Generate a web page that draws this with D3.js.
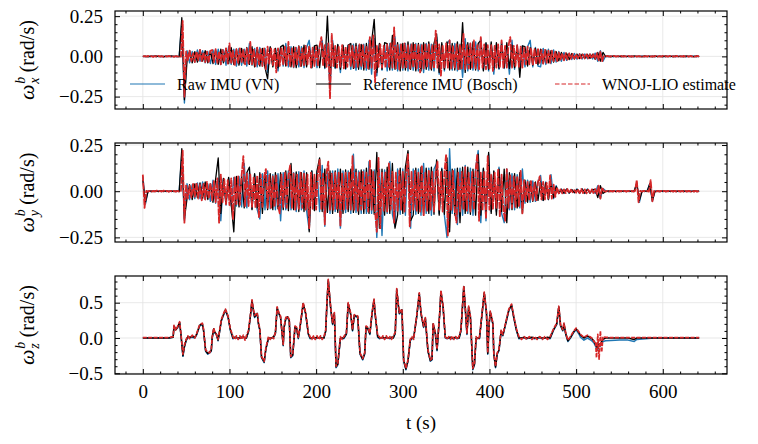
<!DOCTYPE html>
<html><head><meta charset="utf-8">
<script src="https://cdn.jsdelivr.net/npm/d3@7"></script>
<style>
body{margin:0;background:#fff}
svg{display:block}
text{font-family:"Liberation Serif","Times New Roman",Times,serif;fill:#000}
</style></head>
<body><svg id="chart" width="758" height="444"></svg>
<script>
// ---------- DATA ----------
const tFine = d3.range(0, 643, 2);   // 2 s sample grid (0..642)
const tCoarse = d3.range(0, 643, 3); // 3 s sample grid (0..642)

// omega_x (rad/s)
const xEst = [0,.002,-.002,.003,-.002,.002,-.003,.002,-.002,.003,-.002,.002,-.003,.002,-.002,.003,-.002,.002,-.003,.002,-.002,.003,-.002,
.22,-.25,
.03,-.025,.035,-.03,.02,-.035,.03,-.025,.04,-.03,.025,-.035,.03,-.04,.035,
.04,-.035,.045,-.04,.03,-.05,.04,-.035,.05,-.045,.08,-.04,.035,-.06,.045,-.04,.05,-.035,.04,-.05,
.05,-.045,.09,-.05,.04,-.06,.055,-.05,.045,-.06,.05,-.08,.06,-.045,.05,-.055,.045,-.1,.05,-.06,
.055,-.05,.06,-.055,.09,-.06,.05,-.065,.055,-.05,.06,-.06,.05,-.055,.065,-.05,.06,-.07,.055,-.06,
.06,-.055,.065,.12,-.06,.07,-.065,.08,-.26,.14,-.06,.065,-.07,.06,-.065,.07,-.075,.06,-.065,.07,
-.06,.065,-.07,.06,-.065,.075,-.06,.07,-.07,.065,-.075,.12,-.07,.13,-.16,.07,-.065,.075,-.07,.065,
-.07,.075,-.065,.08,-.07,.18,-.075,.07,-.08,.075,-.07,.08,-.075,.07,-.08,.075,-.07,.08,-.075,.07,
-.1,.07,-.075,.08,-.07,.075,-.08,.07,-.075,.16,-.07,.075,-.12,.07,-.075,.08,-.07,.1,-.075,.07,
-.07,.075,-.08,.07,-.075,.14,-.08,.07,-.075,.08,-.07,.1,-.075,.07,-.08,.12,-.07,.075,-.08,.07,
-.075,.07,-.09,.065,-.07,.075,-.065,.1,-.07,.065,-.07,.07,.12,-.07,.065,-.06,.07,-.065,.06,-.07,
.055,-.05,.06,-.05,.05,-.055,.045,-.05,.05,-.045,.04,-.045,.04,-.04,.035,-.04,.035,-.03,.03,-.03,
.025,-.02,.02,-.025,.02,-.02,.018,-.015,.015,-.015,.013,-.012,.014,-.012,.012,-.013,.012,-.012,.013,-.012,
.013,-.015,.02,-.025,.03,-.03,
.002,-.002,.003,-.002,.002,-.002,.003,-.002,.002,-.002,.003,-.002,.002,-.002,.003,-.002,.002,-.002,.003,-.002,
.002,-.002,.003,-.002,.002,-.002,.003,-.002,.002,-.002,.003,-.002,.002,-.002,.003,-.002,.002,-.002,.003,-.002,
.002,-.002,.003,-.002,.002,-.002,.003,-.002,.002,-.002,.003,-.002,.002,-.002,.003,-.002];
const xRaw = [.002,-.003,.002,-.002,.003,-.002,.002,-.003,.002,-.002,.003,-.002,.002,-.003,.002,
.21,-.29,
.035,-.04,.03,-.035,.04,-.03,.035,-.04,.03,-.045,
.04,-.05,.045,-.05,.04,-.055,.06,-.05,.045,-.06,.05,-.055,.045,
-.06,.08,-.055,.05,-.065,.055,-.06,.05,-.1,.055,-.06,.05,-.09,.055,
-.06,.08,-.065,.06,-.07,.055,-.065,.06,-.07,.055,.1,-.07,.06,
-.07,.07,.1,-.075,.08,-.2,.1,-.075,.07,-.1,.065,-.08,.07,
-.08,.075,-.085,.07,-.08,.075,-.085,.1,-.11,.11,-.12,.075,-.085,.07,
-.09,.08,-.085,.12,-.09,.075,-.085,.08,-.09,.075,-.085,.08,-.09,
.075,-.1,.08,-.085,.075,-.09,.12,-.11,.075,-.09,.08,.1,-.085,
.08,-.09,.075,-.13,.11,-.09,.08,-.085,.09,-.09,.11,-.085,.08,-.09,
.075,-.11,.07,-.08,.09,-.075,.07,-.11,.1,-.08,.07,-.075,.065,
-.065,.06,.1,-.065,.055,-.06,-.065,.05,-.05,.045,-.045,.04,-.035,
.03,-.03,.025,-.025,.02,-.02,.018,-.017,.016,-.016,.015,-.015,.015,-.016,
.02,-.03,.035,-.03,
.002,-.002,.003,-.003,.002,-.002,.003,-.003,.002,-.002,.003,-.003,.002,-.002,.003,-.003,.002,-.002,.003,-.003,
.002,-.002,.003,-.003,.002,-.002,.003,-.003,.002,-.002,.003,-.003,.002,-.002,.003,-.003,.002];
const xRef = [-.002,.002,-.003,.002,-.002,.003,-.002,.002,-.003,.002,-.002,.003,-.002,.002,-.003,
.24,-.27,
-.03,.035,-.04,.03,-.035,.04,-.03,.035,-.04,.035,
-.045,.04,-.05,.045,-.04,.05,-.045,.055,-.05,.045,-.055,.05,-.045,
.055,-.05,.06,-.065,.055,-.06,.05,-.07,-.14,.06,-.065,.05,-.07,.06,
.07,-.06,.065,-.065,.06,-.07,.065,-.06,.07,-.065,.06,-.07,.065,
.07,-.07,.08,-.07,.25,-.12,.08,-.07,.075,-.08,.07,-.075,.07,
.08,-.075,.08,-.08,.075,-.085,.08,-.08,.09,.23,-.1,.08,-.08,.085,
.08,-.085,.13,-.08,.085,-.09,.08,-.085,.09,-.08,.085,-.09,.08,
-.09,.085,-.08,.09,-.085,.08,.14,-.1,.085,-.08,.09,-.085,.08,
-.085,.09,-.08,.21,-.1,.085,-.08,.09,-.085,.08,.1,-.09,.085,-.08,
.09,-.08,.085,-.075,.08,-.07,.085,-.075,.07,-.07,.065,-.13,.065,
.06,-.06,.055,-.055,.05,-.05,.045,-.045,.04,-.04,.035,-.035,.03,
-.028,.025,-.022,.02,-.02,.018,-.016,.015,-.014,.014,-.013,.013,-.013,.013,
-.018,.025,-.03,.025,
-.002,.002,-.003,.003,-.002,.002,-.003,.003,-.002,.002,-.003,.003,-.002,.002,-.003,.003,-.002,.002,-.003,.003,
-.002,.002,-.003,.003,-.002,.002,-.003,.003,-.002,.002,-.003,.003,-.002,.002,-.003,.003,-.002];

// omega_y (rad/s)
const yEst = [.09,-.09,
.002,-.002,.002,-.003,.002,-.002,.003,-.002,.002,-.002,.003,-.002,.002,-.003,.002,-.002,.002,-.003,.002,-.002,.002,
.22,-.17,
.035,-.04,.03,-.035,.04,-.03,.045,-.04,.035,-.05,.04,-.045,.05,-.04,.045,
-.05,.055,-.06,.07,-.17,.09,-.06,.065,-.07,.06,-.075,.07,-.15,.075,-.07,.08,-.075,.085,.19,-.08,
.1,-.08,.09,-.085,.08,-.09,.085,-.14,.09,-.085,.08,.12,-.09,.085,-.09,.08,-.085,.09,-.08,-.12,
.09,-.085,.1,-.09,.085,.14,-.09,.095,-.1,.09,-.095,.1,-.09,.095,-.1,.09,-.2,.1,-.095,.09,
-.1,.095,.17,-.1,.095,-.18,.1,.16,-.1,.095,-.1,.1,-.095,.1,-.19,.095,-.1,.1,-.095,.1,
-.1,.19,-.1,.1,-.105,.1,-.1,.105,-.1,.1,-.11,.17,-.1,.105,-.11,-.22,.18,-.2,.1,-.105,
.1,-.11,.15,-.1,.105,-.17,.1,-.105,.11,-.1,.105,-.11,.1,.2,-.19,.105,-.1,.11,-.105,.1,
-.11,.14,-.13,.1,-.105,.11,-.1,.105,-.11,.1,.16,-.1,.105,-.11,.1,.2,-.24,.105,-.1,.11,
-.105,-.17,.1,-.11,.105,-.1,.13,-.105,.1,-.11,.105,-.1,.11,.2,-.16,.1,-.105,.11,-.15,.19,
-.1,.09,-.095,.1,-.09,.12,-.14,.09,-.095,-.16,.12,-.09,.085,-.09,.08,-.085,.08,-.08,.11,-.12,
.06,-.055,.05,-.05,.055,-.05,.045,-.05,.05,.08,-.045,.05,-.045,.045,-.04,.085,-.04,.035,-.03,.02,
-.012,.01,-.012,.01,-.01,.012,-.01,.008,-.006,.006,-.008,.01,-.01,.012,-.01,.01,-.012,.008,-.008,.01,
-.01,.012,-.015,.03,-.04,.02,
.002,-.002,.002,-.002,.002,-.002,.002,-.002,.002,-.002,.002,-.002,.002,-.002,.002,-.002,.002,-.002,.002,
.06,-.06,
.002,-.002,.002,-.002,.002,-.002,
.06,-.055,
.002,-.002,.002,-.002,.002,-.002,.002,-.002,.002,-.002,.002,-.002,.002,-.002,.002,-.002,.002,-.002,.002,-.002,.002,-.002,.002,-.002,.002,-.002,.002];
const yRaw = [.08,-.07,
.002,-.002,.002,-.002,.002,-.002,.002,-.002,.002,-.002,.002,-.002,.002,
.2,-.16,
.04,-.045,.035,-.04,.045,-.04,.05,-.045,.04,-.055,
.06,-.065,.07,-.16,.065,-.075,.07,-.08,.075,-.08,.08,-.085,.15,
-.09,.1,-.095,.09,-.1,-.15,.095,-.1,.11,-.095,.09,-.1,.095,-.16,
.1,-.1,.11,-.1,.1,-.11,.105,-.1,.11,-.105,-.21,.11,-.1,
.11,-.11,.14,-.19,.11,-.12,.11,-.11,.12,-.2,.11,-.115,.11,
-.12,.2,-.115,.11,-.12,.115,-.12,.16,-.12,.115,-.25,.12,-.24,.115,
-.12,.16,-.125,-.19,.12,-.125,.12,-.13,.21,-.2,.12,-.125,.12,
-.13,.15,-.12,.125,-.13,.12,.15,-.12,.125,-.13,-.25,.23,-.12,
.12,-.18,.125,-.13,.14,-.12,.125,-.13,.12,.22,-.17,.12,-.16,.2,
-.11,.105,-.11,.13,-.12,-.17,.12,-.1,.095,-.1,.09,-.09,.12,
-.065,.06,-.06,.055,-.055,.05,.085,-.05,.05,-.045,.09,-.04,.03,
-.012,.012,-.012,.012,-.01,.008,-.008,.012,-.012,.013,-.012,.012,-.01,.01,
-.012,.03,-.04,.015,
.002,-.002,.002,-.002,.002,-.002,.002,-.002,.002,-.002,.002,-.002,
.045,-.06,
.002,-.002,.002,
.04,-.055,
.002,-.002,.002,-.002,.002,-.002,.002,-.002,.002,-.002,.002,-.002,.002,-.002,.002,-.002,.002,-.002];
const yRef = [.06,-.06,
-.002,.002,-.002,.002,-.002,.002,-.002,.002,-.002,.002,-.002,.002,-.002,
.23,-.15,
-.04,.035,-.045,.04,-.035,.045,-.04,.05,-.045,.04,
-.06,.065,.18,-.12,.07,-.065,.075,-.07,-.22,.08,-.085,.08,-.09,
.1,.13,-.1,.095,-.09,.1,-.12,.1,-.1,.095,-.1,.1,-.095,.1,
-.1,.11,-.105,.15,-.1,.105,-.11,.1,-.11,.1,-.22,.11,-.105,
.11,.18,-.11,.12,-.115,.11,-.12,.11,-.115,.12,-.12,.115,-.11,
.12,-.115,.12,-.125,.115,-.12,.125,-.12,.115,-.125,.21,-.2,.12,-.13,
.13,-.12,.15,-.2,-.13,.125,-.12,.13,.22,-.16,-.13,.125,-.12,
.13,-.13,.125,-.12,.13,-.125,.17,-.13,.12,-.125,.18,-.22,.12,
-.13,.125,-.17,.13,-.12,.13,-.125,.12,-.13,.2,-.13,.125,-.12,.21,
-.12,.11,-.13,.12,-.11,.12,-.17,.1,-.1,.095,-.09,.1,-.12,
.06,-.06,.055,-.055,.05,-.05,.05,-.05,.045,-.045,.04,-.035,.025,
-.012,.01,-.01,.011,-.01,.009,-.008,.01,-.01,.011,-.01,.01,-.01,.009,
.01,-.035,.03,-.012,
-.002,.002,-.002,.002,-.002,.002,-.002,.002,-.002,.002,-.002,.002,
.04,-.05,
-.002,.002,-.002,
.04,-.05,
-.002,.002,-.002,.002,-.002,.002,-.002,.002,-.002,.002,-.002,.002,-.002,.002,-.002,.002,-.002,.002];

// omega_z (rad/s)
const zT = [0,10,20,30,35,36,38,40,42.5,44,
46.3,48,50,52,54,57,60,62,65.6,68.7,
70,72.5,75,77,79,80,81.8,83,84.8,86.8,
88,90.6,93,95.3,98.4,101,104,106,108,110,
112,114,116,118,119.5,122,124,126,127.5,129,
132,133.5,135,137,140,142,145,147,149,151,
153,155,157,158.9,162,163,165,167,169,170.7,
173,175.6,177.5,179.4,181,183,185,187.9,191,193,
195,197,199,201,203,205,207,209,211,212.5,
214,215.5,217,219,221,223,225,228,230,232,
234.9,237,240,242,244,248,250.6,253.7,256,257.6,
259.5,262,264.5,266.8,268,271,273,275,277,279,
281,283,285,287,289,291.3,293,295,296,299,
301,303.6,306,308.6,310.5,312.5,316,319,321,324,
326,329,331.8,333.7,335,337.6,339.5,342.6,344,346.5,
349,351,353,355,357,359,361,363,365,367,
370.4,372,374,376,378,380.8,382.7,384.6,386.5,388.5,
389.6,392.7,394,396.6,398,399.6,401,404,405,407,
409,411,413.5,415.5,418.6,422.4,425.5,428,431,434,
437,440,443,446,449,452,455,458,461,464,
467,470,474,477.6,480,482,484.6,486,488,490.5,
493.6,496.8,500,503,505,509,513,517,519,521,
522.5,523.5,525,526.5,528,529.5,531,534,540,550,
560,567,570,580,590,600,620,642];
const zRef = [0,0,0,0,.01,.17,.12,.15,.22,.05,
-.25,-.12,-.03,.02,.01,.02,.01,.05,.18,.2,
.12,-.18,-.22,-.2,-.18,0,.13,.08,.06,-.03,
.05,.25,.33,.4,.3,.12,0,.01,.01,0,
0,.01,.02,0,0,.1,.3,.53,.4,.3,
.35,.2,.12,-.27,-.34,-.15,0,0,0,.02,
.07,.43,.35,.3,-.1,.15,.28,.3,.25,-.27,
-.24,.16,.14,0,.12,.3,.49,.35,.06,0,
0,.01,0,.01,0,.01,0,0,.1,.5,
.82,.6,.4,.2,.35,-.41,-.37,0,0,0,
.06,.49,.33,.11,.32,.3,-.22,-.3,-.22,.16,
.14,.06,.35,.54,.35,.02,0,0,.01,0,
.01,0,0,.01,0,.07,.69,.45,.35,.4,
-.32,-.44,-.32,-.03,0,0,.3,.63,.35,.16,
.28,-.18,-.32,-.3,.2,.06,-.17,.35,.66,.44,
.01,0,0,.01,0,0,.01,0,0,.1,
.73,.44,.06,.44,.3,-.44,-.37,0,0,0,
.13,.49,.64,.35,-.22,.2,.37,.2,-.22,-.41,
-.22,-.17,.1,.04,.2,.4,.47,.3,.12,0,
0,.01,0,0,.01,0,0,.01,0,0,
.01,0,.12,.2,.44,.18,.11,.2,.06,-.04,
.01,.08,.13,.08,.04,0,.03,0,-.02,-.05,
-.1,-.12,-.15,-.08,-.1,-.05,-.02,0,0,0,
0,-.02,0,0,0,0,0,0];
const zEst = [.005,.005,.005,.005,.02,.18,.11,.16,.23,.06,
-.23,-.1,-.02,.03,-.01,.04,0,.06,.19,.21,
.13,-.17,-.2,-.21,-.16,.01,.14,.09,.05,-.02,
.06,.26,.34,.41,.31,.13,.02,-.02,.03,-.02,
.03,-.02,.04,-.03,.03,.11,.31,.54,.41,.32,
.36,.21,.13,-.26,-.33,-.14,.02,-.02,.02,-.01,
.08,.44,.36,.31,-.09,.16,.29,.31,.26,-.26,
-.23,.17,.15,.01,.13,.31,.5,.36,.07,.02,
-.02,.03,-.02,.03,-.02,.03,-.02,.02,.11,.51,
.83,.61,.41,.22,.36,-.4,-.36,.02,-.02,.02,
.07,.5,.34,.12,.33,.31,-.21,-.29,-.21,.17,
.15,.07,.36,.55,.36,.03,.02,-.02,.03,-.02,
.03,-.02,.02,-.02,.03,.08,.7,.46,.36,.41,
-.31,-.43,-.31,-.02,.02,-.02,.31,.64,.36,.17,
.29,-.17,-.31,-.29,.21,.07,-.16,.36,.67,.45,
.02,-.02,.02,-.02,.03,-.02,.02,-.02,.03,.11,
.74,.45,.07,.45,.31,-.43,-.36,.02,-.02,.02,
.14,.5,.65,.36,-.21,.21,.38,.21,-.21,-.4,
-.21,-.16,.11,.05,.21,.41,.48,.31,.13,.02,
-.02,.02,-.02,.02,-.02,.02,-.02,.02,-.02,.02,
-.02,.02,.13,.21,.45,.19,.12,.21,.07,-.03,
.02,.09,.14,.09,.05,.01,.04,.01,-.01,-.06,
-.05,-.28,.05,-.3,.1,-.2,.02,.01,.005,.005,
.005,.005,.005,.005,.005,.005,.005,.005];
const zRaw = [0,0,0,0,.01,.16,.12,.14,.21,.04,
-.26,-.13,-.04,.01,0,.01,0,.04,.17,.19,
.11,-.19,-.23,-.21,-.19,-.01,.12,.07,.05,-.04,
.04,.24,.32,.39,.29,.11,-.01,0,0,-.01,
0,0,.01,-.01,0,.09,.29,.52,.39,.29,
.34,.19,.11,-.28,-.35,-.16,-.01,-.01,0,.01,
.06,.42,.34,.29,-.11,.14,.27,.29,.24,-.28,
-.25,.15,.13,-.01,.11,.29,.48,.34,.05,-.01,
0,0,-.01,0,0,0,-.01,0,.09,.49,
.8,.59,.39,.19,.34,-.42,-.38,-.01,0,-.01,
.05,.48,.32,.1,.31,.29,-.23,-.31,-.23,.15,
.13,.05,.34,.53,.34,.01,-.01,0,0,-.01,
0,0,-.01,0,0,.06,.68,.44,.34,.39,
-.33,-.45,-.33,-.04,-.01,0,.29,.62,.34,.15,
.27,-.19,-.33,-.31,.19,.05,-.18,.34,.65,.43,
0,-.01,0,0,-.01,0,0,-.01,0,.09,
.72,.43,.05,.43,.29,-.45,-.38,-.01,0,-.01,
.12,.48,.63,.34,-.23,.19,.36,.19,-.23,-.42,
-.23,-.18,.09,.03,.19,.39,.46,.29,.11,-.01,
0,0,-.01,0,0,-.01,0,0,-.01,0,
0,-.01,.11,.19,.43,.17,.1,.19,.05,-.05,
0,.07,.12,.06,.01,-.03,0,-.03,-.05,-.08,
-.12,-.15,-.17,-.1,-.12,-.08,-.05,-.04,-.035,-.03,
-.03,-.05,-.02,-.01,0,0,0,0];

// ticks & labels
const xTickVals = [0,100,200,300,400,500,600];
const xTickLabels = ["0","100","200","300","400","500","600"];
const yTicksXY = [-0.25,0,0.25];
const yTickLabelsXY = ["\u22120.25","0.00","0.25"];
const yTicksZ = [-0.5,0,0.5];
const yTickLabelsZ = ["\u22120.5","0.0","0.5"];
const seriesNames = ["Raw IMU (VN)","Reference IMU (Bosch)","WNOJ-LIO estimate"];
const seriesColors = ["#1f77b4","#000000","#d62728"];
const axisSubs = ["x","y","z"];
const xLabel = "t (s)";

// ---------- DRAW ----------
const FONT = "Liberation Serif, Times New Roman, Times, serif";
const svg = d3.select("#chart");
const X0 = 115, X1 = 727;
const x = d3.scaleLinear().domain([-32.1, 674.1]).range([X0, X1]);
const xMinor = d3.range(-20, 661, 20).filter(v => v % 100 !== 0);

const panels = [
  {top:11, bottom:109, dom:[-0.327,0.282], ticks:yTicksXY, labels:yTickLabelsXY, minorStep:0.05,
   data:[[tCoarse,xRaw],[tCoarse,xRef],[tFine,xEst]], lw:[1.4,1.3,1.8], dash:"7,1"},
  {top:143, bottom:242, dom:[-0.275,0.261], ticks:yTicksXY, labels:yTickLabelsXY, minorStep:0.05,
   data:[[tCoarse,yRaw],[tCoarse,yRef],[tFine,yEst]], lw:[1.4,1.3,1.8], dash:"7,1"},
  {top:276, bottom:374, dom:[-0.51,0.878], ticks:yTicksZ, labels:yTickLabelsZ, minorStep:0.1,
   data:[[zT,zRaw],[zT,zRef],[zT,zEst]], lw:[1.5,1.5,1.7], dash:"4,1.4"}
];

const defs = svg.append("defs");

panels.forEach((p, pi) => {
  const y = d3.scaleLinear().domain(p.dom).range([p.bottom, p.top]);
  const g = svg.append("g");
  const cid = "clip" + pi;
  defs.append("clipPath").attr("id", cid).append("rect")
    .attr("x", X0).attr("y", p.top).attr("width", X1 - X0).attr("height", p.bottom - p.top);

  // grid
  g.append("g").selectAll("line").data(xTickVals).join("line")
    .attr("x1", d => x(d)).attr("x2", d => x(d)).attr("y1", p.top).attr("y2", p.bottom)
    .attr("stroke", "#e2e2e2").attr("stroke-width", 0.8);
  g.append("g").selectAll("line").data(p.ticks).join("line")
    .attr("x1", X0).attr("x2", X1).attr("y1", d => y(d)).attr("y2", d => y(d))
    .attr("stroke", "#e2e2e2").attr("stroke-width", 0.8);

  // series
  const line = d3.line().x(d => x(d[0])).y(d => y(d[1]));
  const lg = g.append("g").attr("clip-path", `url(#${cid})`);
  p.data.forEach((s, si) => {
    lg.append("path").datum(d3.zip(s[0], s[1]))
      .attr("d", line).attr("fill", "none")
      .attr("stroke", seriesColors[si]).attr("stroke-width", p.lw[si])
      .attr("stroke-linejoin", "round")
      .attr("stroke-dasharray", si === 2 ? p.dash : null);
  });

  // frame
  g.append("rect").attr("x", X0).attr("y", p.top).attr("width", X1 - X0).attr("height", p.bottom - p.top)
    .attr("fill", "none").attr("stroke", "#000").attr("stroke-width", 1.2);

  // minor y ticks
  const yMinor = d3.range(Math.ceil(p.dom[0] / p.minorStep) * p.minorStep, p.dom[1], p.minorStep)
    .map(v => +v.toFixed(3)).filter(v => !p.ticks.some(t => Math.abs(t - v) < 1e-6));

  const style = sel => {
    sel.select(".domain").remove();
    sel.selectAll(".tick line").attr("stroke", "#000").attr("stroke-width", 1);
    sel.attr("font-family", FONT).attr("font-size", 19);
    sel.selectAll("text").attr("font-family", FONT).attr("font-size", 19).attr("fill", "#000");
  };
  const bottomLabels = pi === 2;
  g.append("g").attr("transform", `translate(0,${p.bottom})`)
    .call(d3.axisBottom(x).tickValues(xTickVals).tickSize(-5).tickPadding(11)
      .tickFormat((d, i) => bottomLabels ? xTickLabels[i] : "")).call(style);
  g.append("g").attr("transform", `translate(0,${p.bottom})`)
    .call(d3.axisBottom(x).tickValues(xMinor).tickSize(-2.5).tickFormat("")).call(style);
  g.append("g").attr("transform", `translate(0,${p.top})`)
    .call(d3.axisTop(x).tickValues(xTickVals).tickSize(-5).tickFormat("")).call(style);
  g.append("g").attr("transform", `translate(0,${p.top})`)
    .call(d3.axisTop(x).tickValues(xMinor).tickSize(-2.5).tickFormat("")).call(style);
  g.append("g").attr("transform", `translate(${X0},0)`)
    .call(d3.axisLeft(y).tickValues(p.ticks).tickSize(-5).tickPadding(12)
      .tickFormat((d, i) => p.labels[i])).call(style);
  g.append("g").attr("transform", `translate(${X0},0)`)
    .call(d3.axisLeft(y).tickValues(yMinor).tickSize(-2.5).tickFormat("")).call(style);
  g.append("g").attr("transform", `translate(${X1},0)`)
    .call(d3.axisRight(y).tickValues(p.ticks).tickSize(-5).tickFormat("")).call(style);
  g.append("g").attr("transform", `translate(${X1},0)`)
    .call(d3.axisRight(y).tickValues(yMinor).tickSize(-2.5).tickFormat("")).call(style);

  // y label: omega_sub^b (rad/s)
  const yc = (p.top + p.bottom) / 2;
  const lab = svg.append("g").attr("transform", `translate(34,${yc}) rotate(-90)`);
  const inner = lab.append("g").attr("font-family", FONT);
  const om = inner.append("text").attr("font-family", FONT).attr("x", 0).attr("y", 0).attr("font-size", 22)
    .attr("font-style", "italic").text("\u03C9");
  const ow = om.node().getComputedTextLength();
  const sub = inner.append("text").attr("font-family", FONT).attr("x", ow + 0.5).attr("y", 5).attr("font-size", 14)
    .attr("font-style", "italic").text(axisSubs[pi]);
  inner.append("text").attr("font-family", FONT).attr("x", ow + 0.5).attr("y", -9).attr("font-size", 14)
    .attr("font-style", "italic").text("b");
  const sw = Math.max(sub.node().getComputedTextLength(), 7);
  const unit = inner.append("text").attr("font-family", FONT).attr("x", ow + sw + 5).attr("y", 0)
    .attr("font-size", 20).text("(rad/s)");
  const total = ow + sw + 5 + unit.node().getComputedTextLength();
  inner.attr("transform", `translate(${-total / 2},0)`);
});

// x label
svg.append("text").attr("font-family", FONT).attr("x", 421).attr("y", 429).attr("text-anchor", "middle")
  .attr("font-size", 19).text(xLabel);

// legend (in top panel)
const legX = [130, 316, 555];
const legY = 84;
seriesNames.forEach((n, i) => {
  svg.append("line").attr("x1", legX[i]).attr("x2", legX[i] + 35).attr("y1", legY).attr("y2", legY)
    .attr("stroke", seriesColors[i]).attr("stroke-width", 1.2)
    .attr("stroke-dasharray", i === 2 ? "4.5,2" : null);
  svg.append("text").attr("font-family", FONT).attr("x", legX[i] + 47).attr("y", legY + 5.5)
    .attr("font-size", 16).text(n);
});
</script>
</body></html>
